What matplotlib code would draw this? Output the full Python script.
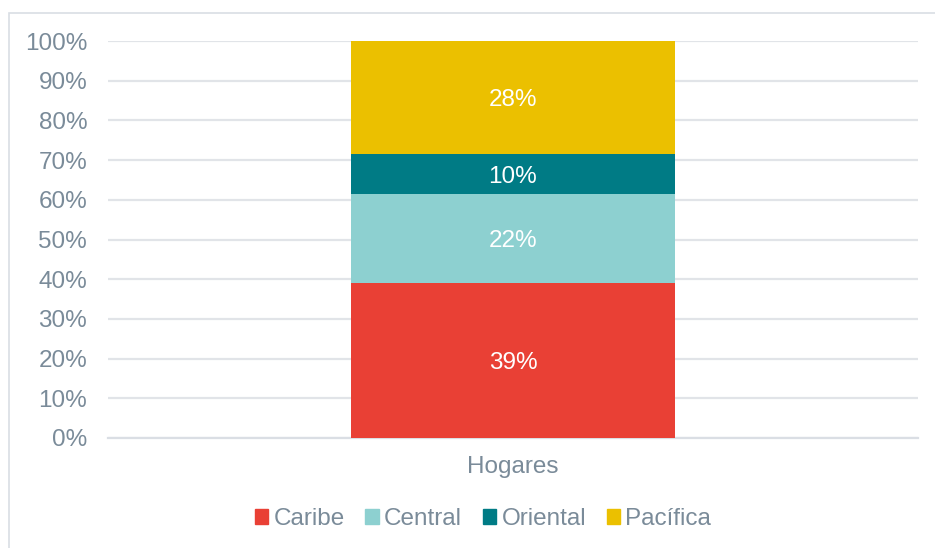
import matplotlib
matplotlib.use("Agg")
import matplotlib.pyplot as plt
from matplotlib.patches import Rectangle

categories = ["Hogares"]
series = ["Caribe", "Central", "Oriental", "Pacífica"]
values = [39.0, 22.4, 10.1, 28.5]
labels = ["39%", "22%", "10%", "28%"]
colors = ["#E94035", "#8DD0D0", "#007B85", "#EBC000"]
yticks = list(range(0, 101, 10))
ytick_labels = [f"{t}%" for t in yticks]

text_color = "#7A8B99"
grid_color = "#E1E4E8"

plt.rcParams["font.family"] = ["Liberation Sans", "DejaVu Sans"]

W, H = 935, 548
fig = plt.figure(figsize=(W / 100, H / 100), dpi=100)
fig.patch.set_facecolor("white")

# outer frame
fig.patches.append(Rectangle((8.5 / W, -0.05), 1.2, 1 - 12.5 / H + 0.05,
                             transform=fig.transFigure, fill=False,
                             edgecolor="#D9DEE4", linewidth=1.2))

ax = fig.add_axes([108 / W, 1 - 438 / H, (918 - 108) / W, (438 - 41) / H])
ax.set_facecolor("none")

bottom = 0
for name, v, lab, c in zip(series, values, labels, colors):
    ax.bar(0, v, width=0.4, bottom=bottom, color=c, label=name, zorder=3)
    ax.text(0, bottom + v / 2, lab, ha="center", va="center_baseline",
            color="white", fontsize=17.5, zorder=4)
    bottom += v

ax.set_xlim(-0.5, 0.5)
ax.set_ylim(0, 100)
ax.set_yticks(yticks)
ax.set_yticklabels(ytick_labels)
ax.set_xticks([0])
ax.set_xticklabels(categories)
ax.tick_params(axis="y", length=0, pad=15, labelsize=17.5, labelcolor=text_color)
ax.tick_params(axis="x", length=0, pad=13, labelsize=17.5, labelcolor=text_color)
ax.grid(axis="y", color=grid_color, linewidth=1.6, zorder=0)
ax.set_axisbelow(True)
for s in ["top", "right", "left"]:
    ax.spines[s].set_visible(False)
ax.spines["bottom"].set_color("#DADEE4")
ax.spines["bottom"].set_linewidth(1.6)

handles = [Rectangle((0, 0), 1, 1, color=c) for c in colors]
fig.legend(handles, series, loc="center", bbox_to_anchor=(483 / W, 1 - 519 / H),
           ncol=4, frameon=False, fontsize=17.5, labelcolor=text_color,
           handlelength=0.55, handleheight=0.55, handletextpad=0.22,
           columnspacing=0.85)

fig.savefig("out.png", dpi=100)
